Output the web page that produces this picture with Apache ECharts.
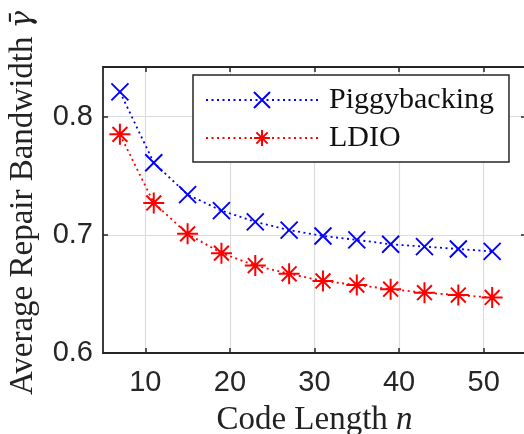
<!DOCTYPE html>
<html>
<head>
<meta charset="utf-8">
<script src="https://cdn.jsdelivr.net/npm/echarts@6/dist/echarts.min.js"></script>
<style>html,body{margin:0;padding:0;background:#fff;}#c{width:524px;height:434px;}</style>
</head>
<body>
<div id="c"></div>
<script>
const codeLength = [7, 11, 15, 19, 23, 27, 31, 35, 39, 43, 47, 51];
const piggybacking = [0.821, 0.761, 0.734, 0.7205, 0.711, 0.704, 0.699, 0.6957, 0.692, 0.690, 0.688, 0.686];
const ldio = [0.785, 0.727, 0.7008, 0.6845, 0.674, 0.667, 0.661, 0.6575, 0.654, 0.651, 0.649, 0.647];
const xTicks = [10, 20, 30, 40, 50];
const yTicks = [0.6, 0.7, 0.8];

const AX = '#262626';
const X_PATH = 'path://M0,0L10,10M10,0L0,10';
const STAR_PATH = 'path://M5,0L5,10M0,5L10,5M1.46,1.46L8.54,8.54M8.54,1.46L1.46,8.54';

const chart = echarts.init(document.getElementById('c'), null, {renderer: 'canvas'});
const xCommon = {
  type: 'value', min: 5, max: 55,
  axisLine: {show: true, onZero: false, lineStyle: {color: AX, width: 1.8}},
  axisTick: {show: true, inside: true, length: 5, customValues: xTicks, lineStyle: {color: AX, width: 1.5}}
};
const yCommon = {
  type: 'value', min: 0.6, max: 0.842, interval: 0.1,
  axisLine: {show: true, onZero: false, lineStyle: {color: AX, width: 1.8}},
  axisTick: {show: true, inside: true, length: 5, lineStyle: {color: AX, width: 1.5}}
};
chart.setOption({
  animation: false,
  backgroundColor: '#fff',
  grid: {left: 103, top: 67, right: -2, bottom: 81, outerBoundsMode: 'none', containLabel: false},
  legend: {
    left: 193, top: 75, orient: 'vertical',
    padding: [10, 15, 9, 12],
    itemWidth: 112, itemHeight: 20, itemGap: 8,
    backgroundColor: '#fff', borderColor: AX, borderWidth: 1.5, borderRadius: 0,
    textStyle: {fontFamily: 'Liberation Serif', fontSize: 30, color: '#111', padding: [0, 0, 0, 6]},
    data: ['Piggybacking', 'LDIO']
  },
  xAxis: [
    Object.assign({}, xCommon, {
      position: 'bottom',
      axisLabel: {show: true, customValues: xTicks, margin: 15, fontFamily: 'Liberation Sans', fontSize: 29, color: AX},
      splitLine: {show: true, lineStyle: {color: '#dcdcdc', width: 1.2}},
      name: 'Code Length {i|n}', nameLocation: 'middle', nameGap: 51,
      nameTextStyle: {fontFamily: 'Liberation Serif', fontSize: 33, color: '#222',
        rich: {i: {fontFamily: 'Liberation Serif', fontStyle: 'italic', fontSize: 33, color: '#222'}}}
    }),
    Object.assign({}, xCommon, {
      position: 'top',
      axisLabel: {show: false},
      splitLine: {show: false}
    })
  ],
  yAxis: [
    Object.assign({}, yCommon, {
      position: 'left',
      axisLabel: {show: true, showMaxLabel: false, margin: 10, fontFamily: 'Liberation Sans', fontSize: 29, color: AX,
        formatter: v => v.toFixed(1)},
      splitLine: {show: true, lineStyle: {color: '#dcdcdc', width: 1.2}},
      name: 'Average Repair Bandwidth {i|γ\u0304}', nameLocation: 'middle', nameGap: 63,
      nameTextStyle: {fontFamily: 'Liberation Serif', fontSize: 33, color: '#222', padding: [0, 0, 0, 14],
        rich: {i: {fontFamily: 'DejaVu Serif', fontStyle: 'italic', fontSize: 29, color: '#222'}}}
    }),
    Object.assign({}, yCommon, {
      position: 'right',
      axisLabel: {show: false},
      splitLine: {show: false}
    })
  ],
  series: [
    {
      name: 'Piggybacking', type: 'line',
      data: codeLength.map((x, i) => [x, piggybacking[i]]),
      symbol: X_PATH, symbolSize: 17, symbolKeepAspect: true,
      itemStyle: {color: '#0000ff', borderColor: '#0000ff', borderWidth: 1.9},
      lineStyle: {color: '#0000ff', width: 1.8, type: [2, 3.5]},
      z: 3
    },
    {
      name: 'LDIO', type: 'line',
      data: codeLength.map((x, i) => [x, ldio[i]]),
      symbol: STAR_PATH, symbolSize: 21, symbolKeepAspect: true,
      itemStyle: {color: '#ff0000', borderColor: '#ff0000', borderWidth: 2},
      lineStyle: {color: '#ff0000', width: 1.8, type: [2, 3.5]},
      z: 3
    }
  ]
});
</script>
</body>
</html>
